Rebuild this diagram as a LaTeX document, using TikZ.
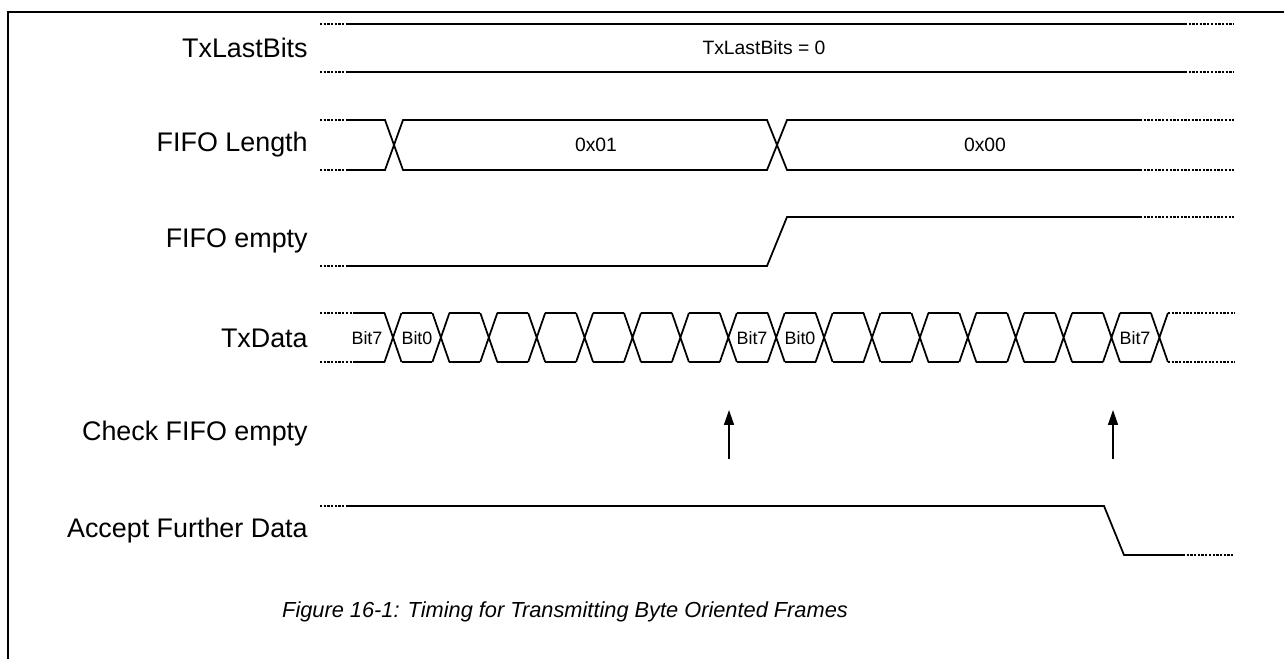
\documentclass[tikz,border=0pt]{standalone}
\usepackage{fontspec}
\setmainfont{Liberation Sans}
\usepackage{xcolor}
\usepackage{tikz}
\usetikzlibrary{arrows.meta}
\definecolor{ink}{HTML}{000000}

\begin{document}
\begin{tikzpicture}[x=0.02cm,y=-0.02cm,>={Triangle[length=8.5pt,width=5.7pt]},
  sig/.style={ink,line width=1pt},
  stub/.style={ink,line width=0.6pt,dash pattern=on 1.3pt off 0.8pt},
  lbl/.style={anchor=east,inner sep=0pt,text=ink,font=\fontsize{15.3}{18}\selectfont},
  val/.style={text=ink,font=\fontsize{11}{13}\selectfont},
  bit/.style={text=ink,inner sep=0pt,font=\fontsize{10.2}{12}\selectfont},
  figcap/.style={text=ink,font=\fontsize{12.4}{15}\selectfont\itshape}]
\useasboundingbox (0,0) rectangle (1284,659);
% --- frame
\draw[ink,line width=1pt] (1284,12) -- (8,12) -- (8,659);
% --- signal names
\foreach \y/\t [count=\i] in {48/TxLastBits,145/FIFO Length,241/FIFO empty,338/TxData,434/Check FIFO empty,531/Accept Further Data}
  {\node[lbl] (name\i) at (308,\y) {\t};}
% --- TxLastBits
\draw[stub] (320,24) -- (346,24) (320,72) -- (346,72);
\draw[sig] (346,24) -- (1185,24) (346,72) -- (1185,72);
\draw[stub] (1185,24) -- (1234,24) (1185,72) -- (1234,72);
\node[val] (lastbits) at (764,48) {TxLastBits = 0};
% --- FIFO Length
\draw[stub] (320,120) -- (346,120) (320,170) -- (346,170);
\draw[sig] (346,120) -- (385,120) -- (403,170) -- (767,170) -- (787,120) -- (1140,120);
\draw[sig] (346,170) -- (385,170) -- (403,120) -- (767,120) -- (787,170) -- (1140,170);
\draw[stub] (1140,120) -- (1234,120) (1140,170) -- (1234,170);
\node[val] (len1) at (596,145) {0x01};
\node[val] (len0) at (985,145) {0x00};
% --- FIFO empty
\draw[stub] (320,266) -- (346,266);
\draw[sig] (346,266) -- (767,266) -- (787,217) -- (1140,217);
\draw[stub] (1140,217) -- (1234,217);
% --- TxData
\draw[stub] (320,313) -- (355,313) (320,362) -- (355,362);
\draw[sig] (355,313) -- (384.5,313) (355,362) -- (384.5,362);
\foreach \k in {0,...,16} {
  \pgfmathsetmacro\c{393+47.9*\k}
  \draw[sig] ({\c-8.5},313) -- ({\c+8.5},362) ({\c-8.5},362) -- ({\c+8.5},313);
}
\foreach \k in {0,...,15} {
  \pgfmathsetmacro\c{393+47.9*\k}
  \draw[sig] ({\c+8.5},313) -- ({\c+39.4},313) ({\c+8.5},362) -- ({\c+39.4},362);
}
\draw[stub] (1167.9,313) -- (1235,313) (1167.9,362) -- (1235,362);
\foreach \x/\b [count=\i] in {367/Bit7,417/Bit0,752/Bit7,800/Bit0,1135/Bit7}
  {\node[bit] (bit\i) at (\x,338) {\b};}
% --- Check FIFO empty
\coordinate (chkA) at (729,459);
\coordinate (chkB) at (1113,459);
\draw[ink,line width=0.8pt,->] (chkA) -- ++(0,-49);
\draw[ink,line width=0.8pt,->] (chkB) -- ++(0,-49);
% --- Accept Further Data
\draw[stub] (320,506) -- (346,506);
\draw[sig] (346,506) -- (1104,506) -- (1124,555) -- (1183,555);
\draw[stub] (1183,555) -- (1234,555);
% --- caption
\node[figcap] (caption) at (565,612) {Figure 16-1: Timing for Transmitting Byte Oriented Frames};
\end{tikzpicture}
\end{document}
